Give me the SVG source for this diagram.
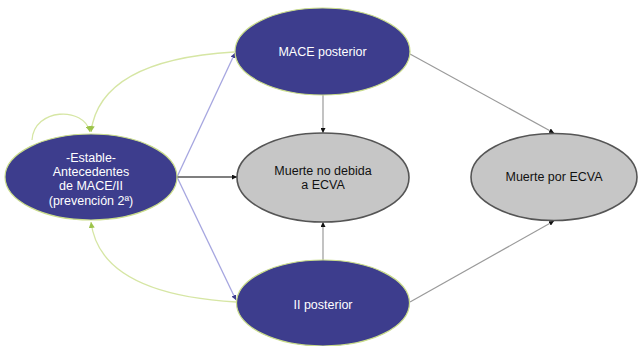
<svg xmlns="http://www.w3.org/2000/svg" width="638" height="346" viewBox="0 0 638 346">
<style>
.blue{fill:#3d3d8d;stroke:#c9dc8a;stroke-width:1.2}
.gray{fill:#c6c6c6;stroke:#555;stroke-width:1.6}
.wt{fill:#fff;font-family:"Liberation Sans",Arial,sans-serif;font-size:12.5px;text-anchor:middle}
.bt{fill:#111;font-family:"Liberation Sans",Arial,sans-serif;font-size:12.5px;text-anchor:middle}
.eg{stroke:#9a9a9a;stroke-width:1.2;fill:none}
.ek{stroke:#555;stroke-width:1.3;fill:none}
.el{stroke:#a6a6e0;stroke-width:1.3;fill:none}
.en{stroke:#d6e6a4;stroke-width:1.3;fill:none}
</style>
<defs>
<marker id="ak" viewBox="0 0 10 10" refX="10" refY="5" markerWidth="5" markerHeight="5" orient="auto" markerUnits="userSpaceOnUse"><path d="M0,0L10,5L0,10z" fill="#111"/></marker>
<marker id="al" viewBox="0 0 10 10" refX="10" refY="5" markerWidth="5" markerHeight="5" orient="auto" markerUnits="userSpaceOnUse"><path d="M0,0L10,5L0,10z" fill="#3d3d8d"/></marker>
<marker id="an" viewBox="0 0 10 10" refX="10" refY="5" markerWidth="6" markerHeight="6" orient="auto" markerUnits="userSpaceOnUse"><path d="M0,0L10,5L0,10z" fill="#9cc34a"/></marker>
</defs>
<rect width="638" height="346" fill="#fff"/>
<g id="connectors">
<path class="en" d="M234,52 Q100,60 91,132" marker-end="url(#an)"/>
<path class="en" d="M236,302 Q100,294 91,222" marker-end="url(#an)"/>
<path class="en" d="M32,140 C34,108 84,106 90,132" marker-end="url(#an)"/>
<path class="el" d="M177,177 L235,53" marker-end="url(#al)"/>
<path class="el" d="M177,177 L236,300" marker-end="url(#al)"/>
<path class="ek" d="M177,177 L237,177" marker-end="url(#ak)"/>
<path class="eg" d="M323,95 L323,133" marker-end="url(#ak)"/>
<path class="eg" d="M323,260 L323,222" marker-end="url(#ak)"/>
<path class="eg" d="M410,54 L554,133" marker-end="url(#ak)"/>
<path class="eg" d="M410,302 L554,221" marker-end="url(#ak)"/>
</g>
<g id="estable">
<ellipse class="blue" cx="91" cy="177" rx="86" ry="43"/>
<text class="wt" x="91" y="162">-Estable-</text>
<text class="wt" x="91" y="176">Antecedentes</text>
<text class="wt" x="91" y="190">de MACE/II</text>
<text class="wt" x="91" y="205">(prevención 2ª)</text>
</g>
<g id="mace">
<ellipse class="blue" cx="322.5" cy="51.5" rx="87.5" ry="43.5"/>
<text class="wt" x="322.5" y="55.5">MACE posterior</text>
</g>
<g id="nodebida">
<ellipse class="gray" cx="323" cy="177.5" rx="86" ry="44.5"/>
<text class="bt" x="323" y="175">Muerte no debida</text>
<text class="bt" x="323" y="189">a ECVA</text>
</g>
<g id="ii">
<ellipse class="blue" cx="323" cy="303" rx="86.5" ry="43"/>
<text class="wt" x="323" y="309">II posterior</text>
</g>
<g id="ecva">
<ellipse class="gray" cx="554" cy="177" rx="83" ry="43.5"/>
<text class="bt" x="554" y="181">Muerte por ECVA</text>
</g>
</svg>
